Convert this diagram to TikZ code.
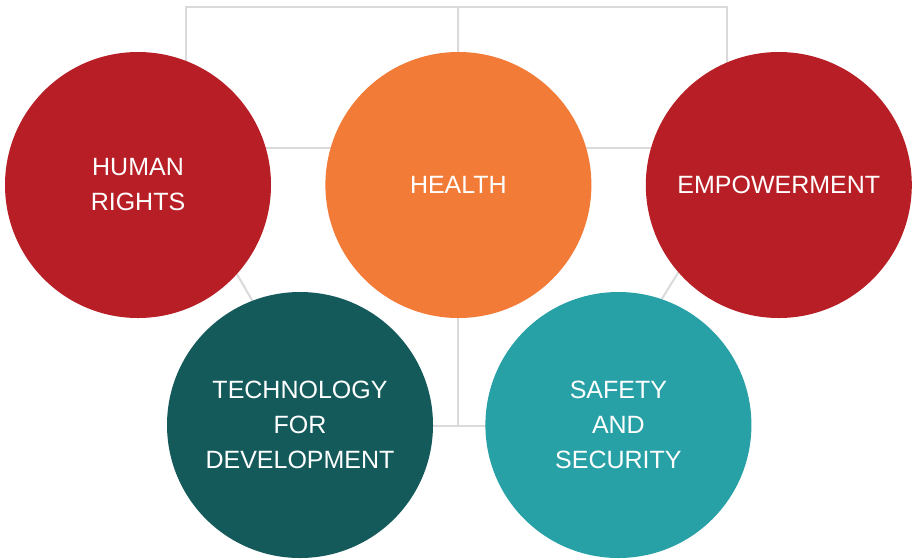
\documentclass[tikz,border=0pt]{standalone}
\usepackage{fontspec}
\setmainfont{Liberation Sans}
\usetikzlibrary{positioning}
\definecolor{rightsColor}{RGB}{184,30,37}
\definecolor{healthColor}{RGB}{243,123,56}
\definecolor{techColor}{RGB}{20,90,91}
\definecolor{safetyColor}{RGB}{39,160,166}
\definecolor{linkColor}{RGB}{218,218,218}
\pgfdeclarelayer{background}
\pgfsetlayers{background,main}
\tikzset{pillar/.style={circle, minimum size=266pt, inner sep=0pt, text=white, align=center, font=\fontsize{25}{35}\selectfont}}
\tikzset{link/.style={draw=linkColor, line width=2pt}}

\begin{document}
\begin{tikzpicture}[x=1pt, y=-1pt]
	\useasboundingbox (0,0) rectangle (912,558);
	% Nodes
		\node (human) [pillar, fill=rightsColor] at (138,185) {HUMAN\\RIGHTS};
		\node (health) [pillar, fill=healthColor, right=54pt of human] {HEALTH};
		\node (empower) [pillar, fill=rightsColor, right=54pt of health] {EMPOWERMENT};
		\node (tech) [pillar, fill=techColor] at (300,425) {TECHNOLOGY\\FOR\\DEVELOPMENT};
		\node (safety) [pillar, fill=safetyColor, right=52pt of tech] {SAFETY\\AND\\SECURITY};
		\coordinate (hubL) at (186,7);
		\coordinate (hubM) at (458,7);
		\coordinate (hubR) at (727,7);
		\coordinate (rowA) at (0,148);
		\coordinate (rowB) at (0,426);

		% Connectors
		\begin{pgfonlayer}{background}
			\draw [link] (hubL |- human) -- (hubL) -- (hubR) -- (hubR |- empower);
			\draw [link] (hubM) -- (health);
			\draw [link] (human |- rowA) -- (health |- rowA) -- (empower |- rowA);
			\draw [link] (health) -- (health |- rowB);
			\draw [link] (tech |- rowB) -- (safety |- rowB);
			\draw [link] (human.-42) -- (tech.111);
			\draw [link] (empower.221) -- (safety.71);
		\end{pgfonlayer}
\end{tikzpicture}
\end{document}
